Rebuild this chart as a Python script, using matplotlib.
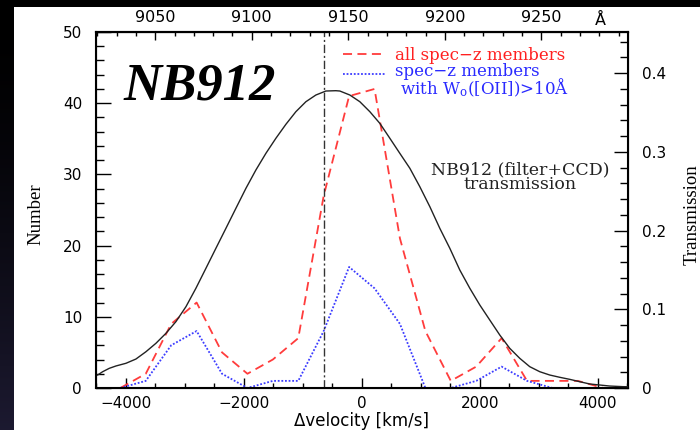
import matplotlib
matplotlib.use("Agg")
import matplotlib.pyplot as plt
import numpy as np
from matplotlib.ticker import MultipleLocator
from matplotlib.patches import Rectangle

# velocity bins (km/s) and member counts
vel_bins = [-4095, -3664, -3233, -2802, -2371, -1940, -1509, -1078, -647, -216,
            215, 646, 1077, 1508, 1939, 2370, 2801, 3232, 3663, 4094]
n_all = [0, 2, 9, 12, 5, 2, 4, 7, 27, 41, 42, 21, 8, 1, 3, 7, 1, 1, 1, 0]
n_oii = [0, 1, 6, 8, 2, 0, 1, 1, 8, 17, 14, 9, 0, 0, 1, 3, 1, 0]

# NB912 (filter+CCD) transmission curve
trans_vel = [-4508, -4480, -4395, -4283, -4169, -4000, -3831, -3661, -3492, -3322,
             -3153, -2983, -2814, -2644, -2475, -2305, -2136, -1966, -1797, -1627,
             -1458, -1288, -1119, -949, -780, -610, -441, -373, -203, -34,
             136, 305, 475, 644, 814, 983, 1153, 1322, 1492, 1661,
             1831, 2000, 2169, 2339, 2508, 2678, 2847, 3017, 3186, 3356,
             3525, 3695, 3864, 4034, 4203, 4429, 4508]
trans = [0.0165, 0.0165, 0.0207, 0.025, 0.028, 0.0314, 0.0368, 0.0461, 0.0568, 0.0695,
         0.0843, 0.1033, 0.1267, 0.1521, 0.1775, 0.2029, 0.2283, 0.2537, 0.277, 0.2982,
         0.3173, 0.3351, 0.3511, 0.3638, 0.3723, 0.3774, 0.3778, 0.3774, 0.3723, 0.3638,
         0.3511, 0.3363, 0.3173, 0.2982, 0.2792, 0.2558, 0.2304, 0.2029, 0.1775, 0.1499,
         0.1267, 0.1055, 0.0864, 0.0673, 0.0504, 0.0377, 0.0271, 0.0207, 0.0165, 0.0136,
         0.011, 0.008, 0.0051, 0.0038, 0.0025, 0.0017, 0.0016]

v_mark = -635
lam0 = 9157.0
c_kms = 299792.458
lam_ticks = [9050, 9100, 9150, 9200, 9250]

plt.rcParams['mathtext.fontset'] = 'dejavuserif'

fig = plt.figure(figsize=(7, 4.3), dpi=100, facecolor='black')
fig.add_artist(Rectangle((14 / 700, 0), 1, 1 - 7 / 430, transform=fig.transFigure,
                         facecolor='white', edgecolor='none', zorder=0))

# dark gradient strip on the left
gax = fig.add_axes([0, 0, 14 / 700, 1 - 7 / 430])
ramp = np.linspace(0, 1, 200) ** 1.5
grad = np.zeros((200, 1, 3))
grad[:, 0, 0] = 0.11 * ramp
grad[:, 0, 1] = 0.10 * ramp
grad[:, 0, 2] = 0.19 * ramp
gax.imshow(grad, aspect='auto')
gax.axis('off')

ax = fig.add_axes([96 / 700, 42 / 430, 531.7 / 700, 356 / 430])
ax.set_xlim(-4508, 4508)
ax.set_ylim(0, 50)

ax.plot(vel_bins, n_all, color='#ff3c3c', lw=1.3, dashes=(5, 3))
ax.plot(vel_bins[:len(n_oii)], n_oii, color='#3c3cff', lw=1.3, linestyle=(0, (1, 1)))
ax.axvline(v_mark, color='#333333', lw=1, linestyle=(0, (6, 2, 1.5, 2)))

ax2 = ax.twinx()
ax2.set_ylim(0, 0.4524)
ax2.plot(trans_vel, trans, color='#222222', lw=1.0)

for s in ax.spines.values():
    s.set_linewidth(1.5)

ax.set_xticks([-4000, -2000, 0, 2000, 4000])
ax.xaxis.set_minor_locator(MultipleLocator(500))
ax.set_yticks([0, 10, 20, 30, 40, 50])
ax.yaxis.set_minor_locator(MultipleLocator(2))
ax.tick_params(axis='y', which='major', direction='in', length=10.8, width=1, labelsize=11, pad=10, right=False)
ax.tick_params(axis='y', which='minor', direction='in', length=5.8, width=1, right=False)
ax.tick_params(axis='x', which='major', direction='in', length=7.2, width=1, labelsize=11, pad=6, top=False)
ax.tick_params(axis='x', which='minor', direction='in', length=3.6, width=1, top=False)

ax2.set_yticks([0, 0.1, 0.2, 0.3, 0.4], ['0', '0.1', '0.2', '0.3', '0.4'])
ax2.yaxis.set_minor_locator(MultipleLocator(0.02))
ax2.tick_params(which='major', direction='in', length=10, width=1, labelsize=11, pad=10)
ax2.tick_params(which='minor', direction='in', length=5.8, width=1)

secax = ax.secondary_xaxis('top', functions=(lambda v: lam0 * (1 + v / c_kms),
                                             lambda l: c_kms * (l / lam0 - 1)))
secax.set_xticks(lam_ticks)
secax.xaxis.set_minor_locator(MultipleLocator(10))
secax.tick_params(which='major', direction='in', length=5.8, width=1, labelsize=11.5, pad=5)
secax.tick_params(which='minor', direction='in', length=2.9, width=1)
secax.spines['top'].set_linewidth(1.5)
fig.text(600 / 700, 1 - 20 / 430, 'Å', ha='center', va='center', size=11.5)

fig.text(36 / 700, 1 - 214 / 430, 'Number', rotation=90, family='Liberation Serif',
         size=13.5, ha='center', va='center')
fig.text(692 / 700, 1 - 215 / 430, 'Transmission', rotation=90, family='Liberation Serif',
         size=13.5, ha='center', va='center')
fig.text(362 / 700, 1 - 421 / 430, 'Δvelocity [km/s]', ha='center', va='center', size=12)

ax.text(0.051, 0.809, 'NB912', transform=ax.transAxes, family='Liberation Serif',
        weight='bold', style='italic', size=38, va='baseline')

# legend
ax.plot([0.4645, 0.5435], [0.937, 0.937], transform=ax.transAxes, color='#ff3c3c', lw=1.3, dashes=(5, 3))
ax.text(0.5623, 0.9334, 'all spec−z members', transform=ax.transAxes, color='#ff2020',
        family='DejaVu Serif', size=12, va='center')
ax.plot([0.4645, 0.5435], [0.881, 0.881], transform=ax.transAxes, color='#3c3cff', lw=1.3, linestyle=(0, (1, 1)))
ax.text(0.5623, 0.862, 'spec−z members\n with W$_\\mathrm{o}$([OII])>10Å', transform=ax.transAxes,
        color='#2a2aff', family='DejaVu Serif', size=12, va='center', linespacing=0.78)

ax.text(0.797, 0.592, 'NB912 (filter+CCD)\ntransmission', transform=ax.transAxes,
        family='DejaVu Serif', size=12.5, ha='center', va='center', multialignment='center',
        linespacing=0.82, color='#222222')

fig.savefig('out.png', dpi=100, facecolor=fig.get_facecolor())
